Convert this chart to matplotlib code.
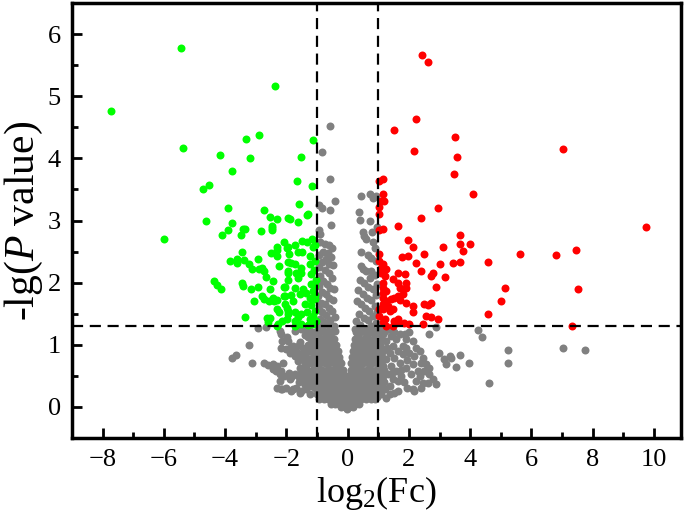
import matplotlib
matplotlib.use("Agg")
import matplotlib.pyplot as plt
from matplotlib.ticker import MultipleLocator

plt.rcParams['font.family'] = ['Liberation Serif', 'DejaVu Serif']
plt.rcParams['mathtext.fontset'] = 'custom'
plt.rcParams['mathtext.rm'] = 'Liberation Serif'
plt.rcParams['mathtext.it'] = 'Liberation Serif:italic'

# ---------------- data (log2 fold change, -lg P) ----------------
green_pts = [
    (-7.73, 4.76), (-5.45, 5.78), (-5.38, 4.17), (-2.38, 5.16), (-4.73, 3.50), (-4.51, 3.57),
    (-4.18, 4.05), (-3.77, 3.80), (-3.32, 4.32), (-2.90, 4.37), (-3.19, 4.00), (-3.91, 3.20),
    (-2.73, 3.17), (-2.52, 3.06), (-2.29, 3.03), (-1.95, 3.04), (-6.01, 2.71), (-4.63, 2.99),
    (-3.77, 2.96), (-3.90, 2.84), (-4.11, 2.76), (-3.49, 2.77), (-3.43, 2.87), (-2.83, 2.83),
    (-2.48, 2.88), (-2.46, 2.91), (-2.08, 2.65), (-3.45, 2.50), (-3.85, 2.35), (-3.60, 2.38),
    (-3.60, 2.31), (-3.37, 2.36), (-3.21, 2.30), (-3.13, 2.22), (-2.94, 2.38), (-2.89, 2.22),
    (-2.79, 2.24), (-2.73, 2.19), (-2.68, 2.09), (-2.51, 2.47), (-2.32, 2.43), (-2.29, 2.53),
    (-2.24, 2.27), (-2.42, 2.02), (-4.35, 2.03), (-4.26, 1.96), (-4.12, 1.90), (-3.46, 2.00),
    (-3.40, 1.94), (-3.17, 1.90), (-2.92, 1.93), (-2.79, 1.79), (-2.74, 1.74), (-2.54, 1.90),
    (-3.04, 1.70), (-2.57, 1.71), (-2.44, 1.75), (-2.32, 1.72), (-2.40, 1.70), (-2.08, 1.93),
    (-2.08, 1.79), (-1.93, 2.05), (-1.93, 2.18), (-1.93, 2.33), (-1.97, 2.55), (-2.29, 1.57),
    (-2.25, 1.52), (-1.93, 1.55), (-3.35, 1.44), (-2.64, 1.43), (-2.52, 1.43), (-2.61, 1.36),
    (-2.29, 1.31), (-1.97, 1.41), (-1.14, 4.30), (-1.53, 4.03), (-1.64, 3.63), (-1.15, 3.56),
    (-1.59, 3.26), (-1.30, 3.10), (-1.89, 3.03), (-1.63, 2.97), (-1.31, 3.09), (-2.46, 2.85),
    (-3.36, 2.86), (-2.31, 2.57), (-1.96, 2.57), (-1.91, 2.46), (-1.73, 2.61), (-1.49, 2.67),
    (-1.33, 2.65), (-1.16, 2.70), (-1.62, 2.50), (-1.49, 2.50), (-1.24, 2.43), (-1.13, 2.57),
    (-1.84, 2.32), (-1.73, 2.30), (-1.51, 2.24), (-1.24, 2.30), (-1.95, 2.16), (-1.67, 2.16),
    (-1.51, 2.16), (-1.18, 2.14), (-1.62, 2.08), (-2.05, 1.93), (-1.73, 1.92), (-1.46, 1.90),
    (-1.18, 1.98), (-2.05, 1.79), (-1.84, 1.80), (-1.78, 1.71), (-1.57, 1.81), (-1.35, 1.84),
    (-1.13, 1.87), (-1.24, 1.76), (-1.40, 1.65), (-1.18, 1.64), (-1.08, 1.73), (-2.05, 1.66),
    (-1.97, 1.60), (-1.95, 1.49), (-1.73, 1.52), (-1.62, 1.44), (-1.51, 1.49), (-1.31, 1.52),
    (-1.24, 1.41), (-1.13, 1.47), (-1.73, 1.38), (-2.27, 1.34), (-2.14, 1.38), (-1.73, 1.31),
    (-1.51, 1.33), (-1.29, 1.32), (-1.13, 1.34), (-1.67, 1.32), (-1.05, 2.60), (-1.06, 2.35),
    (-1.04, 2.05), (-1.05, 1.80), (-1.06, 1.55), (-1.04, 1.38), (-1.10, 2.20), (-1.08, 1.95),
]

red_pts = [
    (2.43, 5.67), (2.63, 5.56), (2.23, 4.63), (1.52, 4.46), (3.49, 4.34), (2.17, 4.12),
    (3.56, 4.03), (3.48, 3.75), (4.09, 3.42), (2.95, 3.20), (2.40, 3.04), (1.01, 3.63),
    (1.16, 3.67), (1.16, 3.43), (1.10, 3.32), (1.19, 3.32), (1.01, 3.22), (1.01, 3.10),
    (7.04, 4.15), (9.75, 2.90), (7.44, 2.53), (6.81, 2.45), (5.62, 2.46), (7.52, 1.89),
    (5.13, 1.92), (5.00, 1.70), (4.59, 1.50), (4.59, 2.33), (3.98, 2.62), (3.68, 2.76),
    (3.68, 2.62), (3.76, 2.51), (3.68, 2.33), (7.34, 1.31), (1.65, 2.91), (1.04, 2.84),
    (1.15, 2.86), (1.98, 2.69), (2.13, 2.57), (3.11, 2.58), (2.48, 2.46), (1.77, 2.42),
    (1.97, 2.43), (1.04, 2.46), (1.04, 2.35), (1.15, 2.30), (1.10, 2.24), (2.24, 2.32),
    (3.01, 2.30), (3.43, 2.32), (1.26, 2.22), (1.10, 2.16), (1.21, 2.11), (1.64, 2.16),
    (1.86, 2.14), (2.41, 2.18), (2.78, 2.16), (2.73, 2.11), (3.17, 2.09), (1.48, 2.06),
    (1.64, 2.00), (1.70, 1.92), (1.91, 2.00), (1.91, 1.92), (1.15, 2.00), (1.15, 1.92),
    (1.26, 1.87), (1.15, 1.83), (2.87, 1.93), (1.80, 1.81), (1.64, 1.79), (1.53, 1.76),
    (1.42, 1.73), (1.70, 1.72), (1.91, 1.68), (1.15, 1.76), (1.26, 1.71), (1.15, 1.65),
    (1.31, 1.63), (1.15, 1.57), (1.37, 1.55), (1.48, 1.57), (2.13, 1.63), (2.13, 1.53),
    (2.51, 1.65), (2.73, 1.68), (2.62, 1.64), (1.04, 1.57), (1.04, 1.47), (1.21, 1.41),
    (1.15, 1.36), (1.53, 1.38), (1.64, 1.36), (2.02, 1.34), (2.46, 1.33), (2.94, 1.41),
    (1.48, 1.31), (1.26, 1.31), (2.56, 1.47), (2.73, 1.44), (1.64, 1.41), (1.83, 1.35),
]

gray_pts = [
    # outer left
    (-2.92, 1.27), (-2.65, 1.28), (-3.22, 1.00), (-3.77, 0.79), (-3.63, 0.83), (-3.11, 0.70),
    (-2.73, 0.71), (-2.60, 0.68), (-2.44, 0.69), (-2.32, 0.66), (-2.44, 0.61), (-2.35, 0.58),
    (-2.22, 0.53), (-2.09, 0.50), (-1.91, 0.54), (-2.32, 0.30), (-2.13, 0.29), (-2.00, 0.31),
    (-2.16, 1.17), (-2.13, 1.06), (-2.16, 0.95), (-1.97, 1.12), (-1.89, 0.95), (-2.11, 0.71),
    (-2.16, 0.58), (-1.84, 0.48), (-1.73, 0.53), (-1.62, 0.50), (-1.89, 0.45), (-2.16, 0.28),
    (-1.84, 0.26), (-1.67, 0.31), (-1.51, 0.26), (-1.35, 0.28), (-2.22, 1.22), (-1.95, 1.06),
    (-2.00, 0.93), (-1.78, 0.98), (-1.89, 0.87), (-1.67, 0.90), (-1.73, 0.82), (-1.57, 0.85),
    (-1.46, 0.87), (-1.62, 0.74), (-1.46, 0.77), (-1.40, 0.69), (-1.57, 0.63), (-1.35, 0.63),
    (-1.51, 0.55), (-1.29, 0.58), (-1.35, 0.47), (-1.46, 0.45), (-1.24, 0.42), (-1.29, 0.37),
    (-1.18, 0.34), (-1.73, 1.22), (-1.62, 1.28), (-1.51, 1.25), (-1.35, 1.27), (-1.24, 1.22),
    (-1.13, 1.17), (-1.20, 1.10), (-1.30, 1.00), (-1.20, 0.90), (-1.35, 0.80), (-1.20, 0.70),
    (-1.25, 0.50), (-1.40, 1.15), (-1.55, 1.05), (-1.45, 0.95), (-1.60, 1.00), (-1.30, 1.12),
    (-1.15, 1.00), (-1.28, 0.90), (-1.14, 0.80), (-1.27, 0.72), (-1.13, 0.60), (-1.38, 0.55),
    (-1.16, 0.50), (-2.22, 0.42), (-1.78, 0.28), (-1.57, 0.23), (-1.24, 0.20), (-1.40, 0.35),
    (-1.60, 0.40),
    # upper centre, left arm
    (-0.58, 4.52), (-0.82, 4.11), (-0.56, 3.67), (-0.42, 3.31), (-0.59, 3.17), (-0.53, 2.93),
    (-0.92, 3.25), (-0.84, 3.21),
    (-0.95, 2.85), (-0.90, 2.78), (-0.91, 2.65), (-0.75, 2.62), (-0.60, 2.60), (-0.50, 2.55),
    (-0.80, 2.50), (-0.65, 2.48), (-0.95, 2.45), (-0.55, 2.42), (-0.70, 2.38), (-0.85, 2.33),
    (-0.60, 2.30), (-0.48, 2.28), (-0.95, 2.25), (-0.75, 2.20), (-0.62, 2.15), (-0.90, 2.10),
    (-0.52, 2.08), (-0.80, 2.03), (-0.68, 1.98), (-0.95, 1.95), (-0.58, 1.92), (-0.45, 1.90),
    (-0.85, 1.85), (-0.72, 1.82), (-0.98, 1.78), (-0.60, 1.75), (-0.48, 1.72), (-0.88, 1.68),
    (-0.75, 1.65), (-0.62, 1.60), (-0.95, 1.58), (-0.50, 1.55), (-0.82, 1.52), (-0.70, 1.48),
    (-0.42, 1.45), (-0.90, 1.42), (-0.58, 1.40), (-0.78, 1.36), (-0.65, 1.32), (-0.98, 1.30),
    (-0.46, 1.30), (-0.85, 1.25), (-0.40, 1.22),
    # upper centre, right arm
    (0.45, 3.40), (0.72, 3.43), (0.83, 3.37), (0.94, 3.40), (0.36, 3.14), (0.42, 3.01),
    (0.72, 3.00), (0.50, 2.81), (0.55, 2.75), (0.61, 2.70), (0.80, 2.82), (0.83, 2.65),
    (0.95, 2.90), (0.90, 2.55), (0.45, 2.50), (0.65, 2.45), (0.75, 2.40), (0.92, 2.35),
    (0.45, 2.27), (0.50, 2.22), (0.61, 2.19), (0.77, 2.19), (0.72, 2.08), (0.88, 2.12),
    (0.40, 2.05), (0.55, 2.00), (0.95, 1.98), (0.68, 1.93), (0.82, 1.90), (0.35, 1.88),
    (0.50, 1.82), (0.92, 1.80), (0.62, 1.75), (0.75, 1.72), (0.30, 1.70), (0.45, 1.65),
    (0.88, 1.63), (0.58, 1.60), (0.70, 1.55), (0.97, 1.52), (0.38, 1.50), (0.82, 1.47),
    (0.52, 1.43), (0.65, 1.40), (0.28, 1.38), (0.92, 1.35), (0.42, 1.32), (0.75, 1.30),
    (0.25, 1.25), (0.58, 1.25), (0.88, 1.22),
    # dense lower centre
    (-1.08, 1.20), (-0.93, 1.20), (-0.78, 1.20), (-0.63, 1.20), (-0.50, 1.20),
    (0.28, 1.20), (0.42, 1.20), (0.57, 1.20), (0.72, 1.20), (0.86, 1.20), (1.00, 1.20), (1.12, 1.20),
    (-1.02, 1.10), (-0.87, 1.10), (-0.72, 1.10), (-0.58, 1.10), (-0.44, 1.10),
    (0.24, 1.10), (0.38, 1.10), (0.52, 1.10), (0.67, 1.10), (0.82, 1.10), (0.96, 1.10), (1.10, 1.10),
    (-1.10, 1.00), (-0.95, 1.00), (-0.80, 1.00), (-0.65, 1.00), (-0.50, 1.00), (-0.38, 1.00),
    (0.20, 1.00), (0.34, 1.00), (0.48, 1.00), (0.63, 1.00), (0.78, 1.00), (0.93, 1.00), (1.07, 1.00),
    (-1.03, 0.90), (-0.88, 0.90), (-0.73, 0.90), (-0.58, 0.90), (-0.45, 0.90), (-0.32, 0.90),
    (0.17, 0.90), (0.30, 0.90), (0.44, 0.90), (0.59, 0.90), (0.74, 0.90), (0.89, 0.90), (1.03, 0.90), (1.16, 0.90),
    (-1.10, 0.80), (-0.96, 0.80), (-0.81, 0.80), (-0.66, 0.80), (-0.52, 0.80), (-0.38, 0.80), (-0.27, 0.80),
    (0.15, 0.80), (0.27, 0.80), (0.40, 0.80), (0.55, 0.80), (0.70, 0.80), (0.85, 0.80), (1.00, 0.80), (1.13, 0.80),
    (-1.04, 0.70), (-0.89, 0.70), (-0.74, 0.70), (-0.60, 0.70), (-0.46, 0.70), (-0.33, 0.70), (-0.21, 0.70),
    (0.12, 0.70), (0.24, 0.70), (0.37, 0.70), (0.51, 0.70), (0.66, 0.70), (0.81, 0.70), (0.96, 0.70), (1.10, 0.70),
    (-1.12, 0.60), (-0.97, 0.60), (-0.82, 0.60), (-0.68, 0.60), (-0.54, 0.60), (-0.40, 0.60), (-0.27, 0.60), (-0.15, 0.60),
    (0.10, 0.60), (0.21, 0.60), (0.34, 0.60), (0.48, 0.60), (0.62, 0.60), (0.77, 0.60), (0.92, 0.60), (1.06, 0.60), (1.20, 0.60),
    (-1.05, 0.50), (-0.90, 0.50), (-0.75, 0.50), (-0.61, 0.50), (-0.47, 0.50), (-0.34, 0.50), (-0.21, 0.50), (-0.10, 0.50),
    (0.06, 0.50), (0.18, 0.50), (0.30, 0.50), (0.44, 0.50), (0.58, 0.50), (0.73, 0.50), (0.88, 0.50), (1.02, 0.50), (1.16, 0.50),
    (-1.15, 0.40), (-1.00, 0.40), (-0.85, 0.40), (-0.70, 0.40), (-0.56, 0.40), (-0.42, 0.40), (-0.28, 0.40), (-0.15, 0.40),
    (-0.03, 0.40), (0.08, 0.40), (0.20, 0.40), (0.33, 0.40), (0.47, 0.40), (0.61, 0.40), (0.76, 0.40), (0.91, 0.40),
    (1.05, 0.40), (1.20, 0.40),
    (-1.08, 0.30), (-0.93, 0.30), (-0.78, 0.30), (-0.64, 0.30), (-0.50, 0.30), (-0.36, 0.30), (-0.22, 0.30), (-0.09, 0.30),
    (0.04, 0.30), (0.16, 0.30), (0.29, 0.30), (0.42, 0.30), (0.56, 0.30), (0.70, 0.30), (0.85, 0.30), (1.00, 0.30), (1.14, 0.30),
    (-1.00, 0.20), (-0.85, 0.20), (-0.70, 0.20), (-0.56, 0.20), (-0.42, 0.20), (-0.28, 0.20), (-0.15, 0.20), (-0.02, 0.20),
    (0.10, 0.20), (0.23, 0.20), (0.37, 0.20), (0.51, 0.20), (0.65, 0.20), (0.80, 0.20), (0.95, 0.20), (1.10, 0.20),
    (-0.92, 0.12), (-0.78, 0.12), (-0.63, 0.12), (-0.48, 0.12), (-0.34, 0.12), (-0.20, 0.12), (-0.07, 0.12), (0.05, 0.12),
    (0.18, 0.12), (0.31, 0.12), (0.45, 0.12), (0.60, 0.12), (0.75, 0.12), (0.90, 0.12),
    (-0.55, 0.05), (-0.40, 0.05), (-0.27, 0.05), (-0.14, 0.05), (-0.02, 0.05), (0.10, 0.05), (0.23, 0.05), (0.37, 0.05),
    (-0.20, 0.00), (-0.08, 0.00), (0.04, 0.00), (0.16, 0.00), (-0.03, -0.04),
    # extra fill between rows of the lower centre
    (-0.98, 1.15), (-0.70, 1.15), (0.33, 1.15), (0.62, 1.15), (0.92, 1.15),
    (-0.95, 0.95), (-0.66, 0.95), (-0.40, 0.95), (0.25, 0.95), (0.53, 0.95), (0.82, 0.95), (1.10, 0.95),
    (-1.05, 0.75), (-0.76, 0.75), (-0.48, 0.75), (-0.27, 0.75), (0.20, 0.75), (0.45, 0.75), (0.75, 0.75), (1.05, 0.75),
    (-0.90, 0.55), (-0.62, 0.55), (-0.35, 0.55), (-0.14, 0.55), (0.12, 0.55), (0.38, 0.55), (0.66, 0.55), (0.95, 0.55),
    (-1.00, 0.35), (-0.72, 0.35), (-0.44, 0.35), (-0.18, 0.35), (0.10, 0.35), (0.37, 0.35), (0.64, 0.35), (0.93, 0.35),
    (-0.80, 0.16), (-0.50, 0.16), (-0.22, 0.16), (0.06, 0.16), (0.35, 0.16), (0.64, 0.16), (0.95, 0.16),
    # outer right
    (4.26, 1.23), (4.38, 1.12), (3.68, 0.83), (3.96, 0.71), (5.22, 0.91), (5.25, 0.70),
    (4.63, 0.39), (7.03, 0.94), (7.76, 0.92), (2.65, 1.18), (2.87, 1.28), (2.98, 0.87),
    (3.16, 0.77), (3.33, 0.82), (3.22, 0.69), (3.38, 0.79), (3.54, 0.65), (2.18, 0.26),
    (2.40, 0.31), (2.62, 0.39), (2.78, 0.45), (1.86, 1.17), (1.91, 1.09), (1.80, 0.98),
    (2.13, 1.06), (2.24, 0.95), (2.02, 0.87), (2.35, 0.90), (2.18, 0.82), (2.46, 0.79),
    (2.40, 0.71), (2.13, 0.69), (1.91, 0.63), (1.70, 0.71), (2.57, 0.69), (2.67, 0.63),
    (2.51, 0.58), (2.29, 0.58), (2.08, 0.53), (2.67, 0.53), (2.35, 0.50), (2.46, 0.39),
    (2.24, 0.42), (2.13, 0.28), (1.64, 0.26), (1.53, 0.23), (1.37, 0.20), (1.26, 0.15),
    (1.15, 1.17), (1.26, 1.06), (1.42, 1.14), (1.59, 1.09), (1.48, 0.98), (1.21, 0.93),
    (1.37, 0.87), (1.64, 0.90), (1.53, 0.79), (1.26, 0.77), (1.15, 0.66), (1.42, 0.66),
    (1.59, 0.58), (1.31, 0.53), (1.48, 0.45), (1.15, 0.42), (1.64, 0.42), (1.37, 0.34),
    (1.21, 0.28), (1.04, 1.26), (1.21, 1.22), (1.37, 1.25), (1.53, 1.20), (1.70, 1.17),
    (2.89, 0.37), (1.75, 0.50), (1.85, 0.40), (1.95, 0.30), (1.80, 0.85), (1.95, 0.75),
    (1.75, 0.60), (2.00, 1.20), (1.30, 0.95), (1.45, 0.55), (1.90, 0.95),
]

xticks = [-8, -6, -4, -2, 0, 2, 4, 6, 8, 10]
yticks = [0, 1, 2, 3, 4, 5, 6]
fc_cut = [-1, 1]
p_cut = 1.301

# ---------------- plot ----------------
fig = plt.figure(figsize=(6.85, 5.27), dpi=100)
ax = fig.add_axes([0.105, 0.169, 0.889, 0.825])

def scat(pts, color):
    xs = [p[0] for p in pts]
    ys = [p[1] for p in pts]
    ax.scatter(xs, ys, s=33, color=color, linewidths=0, zorder=2)

scat(gray_pts, '#808080')
scat(green_pts, '#00FF00')
scat(red_pts, '#FF0000')

for v in fc_cut:
    ax.axvline(v, color='black', lw=1.6, ls=(0, (5, 3)), zorder=3)
ax.axhline(p_cut, color='black', lw=1.6, ls=(0, (5, 3)), zorder=3)

ax.set_xlim(-9, 10.88)
ax.set_ylim(-0.5, 6.5)
ax.set_xticks(xticks)
ax.set_yticks(yticks)
ax.xaxis.set_minor_locator(MultipleLocator(1))
ax.yaxis.set_minor_locator(MultipleLocator(0.5))
ax.tick_params(which='major', direction='in', length=7, width=2, labelsize=19, pad=8)
ax.tick_params(which='minor', direction='in', length=4, width=2)
for s in ax.spines.values():
    s.set_linewidth(2.5)

ax.set_xlabel(r'log$_2$(Fc)', fontsize=26, labelpad=2)
ax.set_ylabel(r'-lg($\mathit{P}$ value)', fontsize=30, labelpad=2)

fig.savefig('out.png', dpi=100)
